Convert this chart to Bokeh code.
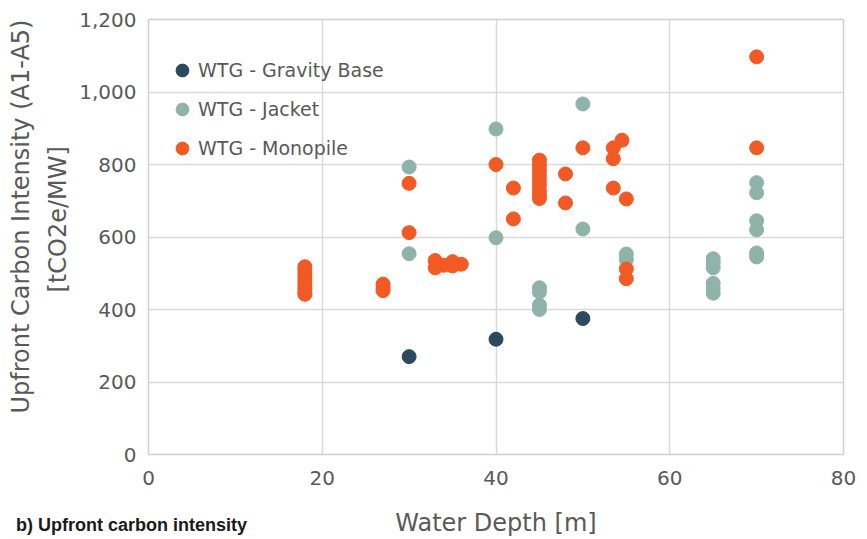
from bokeh.plotting import figure
from bokeh.models import ColumnDataSource, Legend, LegendItem, NumeralTickFormatter, FixedTicker, Range1d, Title, Div
from bokeh.layouts import column
from bokeh.embed import file_html
from bokeh.resources import INLINE

# Data
gravity_depth = [30, 40, 50]
gravity_intensity = [270, 318, 375]

jacket_depth = [30, 30, 40, 40, 45, 45, 45, 45, 50, 50, 55, 55,
                65, 65, 65, 65, 65, 65, 70, 70, 70, 70, 70, 70]
jacket_intensity = [793, 554, 898, 598, 460, 448, 412, 400, 967, 622, 553, 538,
                    540, 528, 515, 472, 458, 445, 750, 722, 645, 620, 556, 545]

mono_depth = [18, 18, 18, 18, 18, 18, 18, 18, 18,
              27, 27, 27,
              30, 30,
              33, 33, 34, 35, 35, 36,
              40, 42, 42,
              45, 45, 45, 45, 45, 45, 45, 45, 45,
              48, 48, 50, 53.5, 53.5, 53.5, 54.5, 55, 55, 55,
              70, 70]
mono_intensity = [518, 508, 498, 488, 478, 468, 458, 448, 442,
                  470, 460, 452,
                  748, 612,
                  535, 515, 522, 532, 520, 525,
                  800, 735, 650,
                  812, 798, 784, 770, 756, 742, 728, 716, 706,
                  774, 694, 846, 846, 816, 735, 867, 705, 512, 485,
                  1097, 846]

x_ticks = [0, 20, 40, 60, 80]
y_ticks = [0, 200, 400, 600, 800, 1000, 1200]

series_names = ["WTG - Gravity Base", "WTG - Jacket", "WTG - Monopile"]
series_colors = ["#2b4a5e", "#8fb3a8", "#f15a24"]

y_title_lines = ["Upfront Carbon Intensity (A1-A5)", "[tCO2e/MW]"]
x_title = "Water Depth [m]"
caption = "b) Upfront carbon intensity"

FONT = "DejaVu Sans"
GREY = "#595959"

p = figure(width=859, height=539, output_backend="svg", toolbar_location=None,
           x_range=Range1d(0, 80), y_range=Range1d(0, 1200),
           min_border_left=148, min_border_right=16, min_border_top=19, min_border_bottom=85)

p.background_fill_color = "white"
p.border_fill_color = "white"
p.outline_line_color = "#d0d0d0"
p.outline_line_width = 1.5

p.xgrid.grid_line_color = "#d9d9d9"
p.ygrid.grid_line_color = "#d9d9d9"
p.xgrid.grid_line_width = 1.5
p.ygrid.grid_line_width = 1.5

p.xaxis.ticker = FixedTicker(ticks=x_ticks)
p.yaxis.ticker = FixedTicker(ticks=y_ticks)
p.yaxis.formatter = NumeralTickFormatter(format="0,0")
for ax in (p.xaxis, p.yaxis):
    ax.axis_line_color = "#d0d0d0"
    ax.major_tick_line_color = None
    ax.minor_tick_line_color = None
    ax.major_label_text_font = FONT
    ax.major_label_text_font_size = "20px"
    ax.major_label_text_color = GREY
    ax.axis_label_text_font = FONT
    ax.axis_label_text_font_size = "24px"
    ax.axis_label_text_font_style = "normal"
    ax.axis_label_text_color = GREY
p.xaxis.major_label_standoff = 10
p.yaxis.major_label_standoff = 6
p.xaxis.axis_label = x_title
p.xaxis.axis_label_standoff = 21

# y-axis title as two left-side titles (second line closer to the frame)
t2 = Title(text=y_title_lines[1], align="left", offset=162, standoff=10,
           text_font=FONT, text_font_size="24px", text_font_style="normal",
           text_color=GREY)
t1 = Title(text=y_title_lines[0], align="left", offset=41, standoff=4,
           text_font=FONT, text_font_size="24px", text_font_style="normal",
           text_color=GREY)
p.add_layout(t2, "left")
p.add_layout(t1, "left")

srcs = [
    ColumnDataSource(dict(x=gravity_depth, y=gravity_intensity)),
    ColumnDataSource(dict(x=jacket_depth, y=jacket_intensity)),
    ColumnDataSource(dict(x=mono_depth, y=mono_intensity)),
]
items = []
for src, name, col in zip(srcs, series_names, series_colors):
    r = p.scatter("x", "y", source=src, size=14, fill_color=col, line_color=col)
    items.append(LegendItem(label=name, renderers=[r]))

legend = Legend(items=items, location=(18, 290), border_line_color=None,
                background_fill_alpha=0, label_text_font=FONT,
                label_text_font_size="19px", label_text_color=GREY,
                glyph_width=32, glyph_height=32, spacing=7,
                margin=0, padding=4, label_standoff=-1)
p.add_layout(legend)

cap = Div(text=caption, margin=(-26, 0, 0, 16),
          styles={"font-family": "Liberation Sans, Arial, sans-serif", "font-size": "18px",
                  "font-weight": "bold", "color": "#1a1a1a", "white-space": "nowrap"})

layout = column(p, cap, spacing=0)
open("out.html", "w").write(file_html(layout, INLINE))
